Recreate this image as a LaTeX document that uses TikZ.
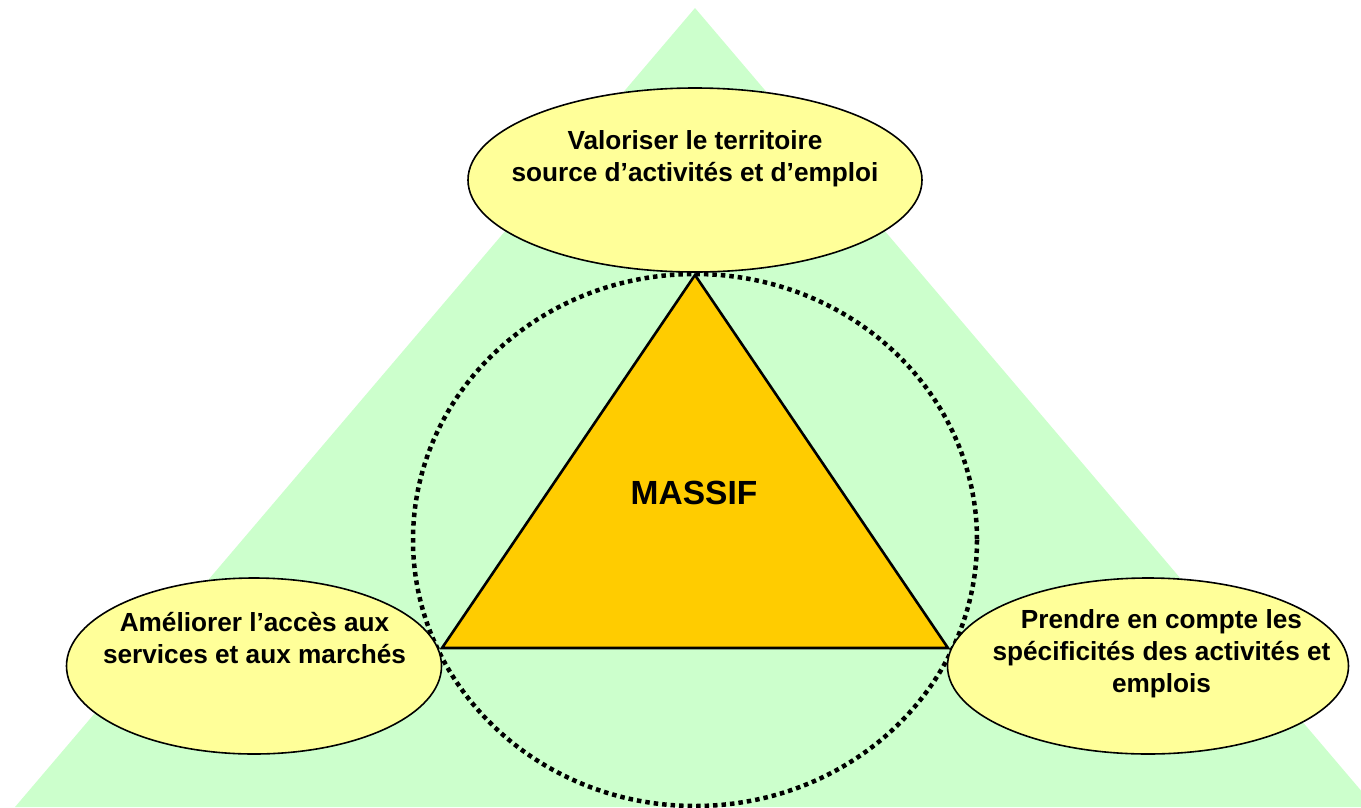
\documentclass[tikz,border=0pt]{standalone}
\usepackage{fontspec}
\setmainfont{Liberation Sans}
\usetikzlibrary{shapes.geometric}
\definecolor{bggreen}{HTML}{CCFFCC}
\definecolor{ellyellow}{HTML}{FFFF99}
\definecolor{triorange}{HTML}{FFCC00}
\tikzset{
  goal/.style={ellipse, draw=black, line width=1.6pt, fill=ellyellow, inner sep=0pt},
  goaltext/.style={align=center, font=\fontsize{26.2}{32}\selectfont\bfseries, inner sep=0pt},
  ring/.style={draw=black, line width=4.5pt, dash pattern=on 4.5pt off 4pt},
}
\begin{document}
\begin{tikzpicture}[x=1pt,y=-1pt]
\useasboundingbox (0,0) rectangle (1361,807);
\begin{scope}
\clip (0,0) rectangle (1361,807);
\fill[bggreen] (695,8) -- (15,807) -- (1375,807) -- cycle;
\end{scope}
\node[goal, minimum width=454pt, minimum height=184pt] (top) at (695,180) {};
\node[goaltext] (toptext) at (695,159) {Valoriser le territoire\\source d’activités et d’emploi};
\draw[ring] (695,540) ellipse [x radius=282, y radius=266];
\coordinate (apex) at (695,275);
\coordinate (bl) at (442,648);
\coordinate (br) at (948,648);
\draw[fill=triorange, line width=2.6pt, line join=miter] (apex) -- (bl) -- (br) -- cycle;
\node[font=\fontsize{33.5}{38}\selectfont\bfseries, inner sep=0pt] (massif) at (694,493) {MASSIF};
\node[goal, minimum width=375pt, minimum height=176pt] (left) at (254,666) {};
\node[goaltext] (lefttext) at (254.5,638) {Améliorer l’accès aux\\services et aux marchés};
\node[goal, minimum width=401pt, minimum height=176pt] (right) at (1148,666) {};
\node[goaltext] (righttext) at (1161.5,654) {Prendre en compte les\\spécificités des activités et\\emplois};
\end{tikzpicture}
\end{document}
